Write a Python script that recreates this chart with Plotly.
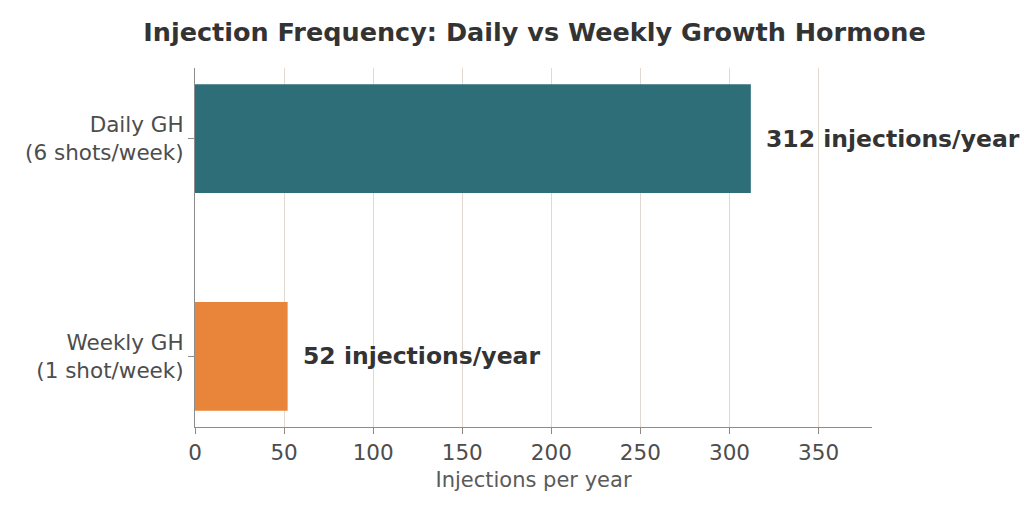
import plotly.graph_objects as go

categories = ["Weekly GH<br>(1 shot/week)", "Daily GH<br>(6 shots/week)"]
values = [52, 312]
colors = ["#E8853A", "#2E6E79"]
labels = ["52 injections/year", "312 injections/year"]
x_ticks = [0, 50, 100, 150, 200, 250, 300, 350]

fig = go.Figure()
fig.add_trace(go.Bar(
    y=[0, 1], x=values, orientation="h", width=0.5,
    marker=dict(color=colors, line=dict(width=0)),
    showlegend=False, hoverinfo="skip",
))
for i, (v, t) in enumerate(zip(values, labels)):
    fig.add_annotation(x=v, y=i, text=f"<b>{t}</b>", xanchor="left", xshift=13,
                       showarrow=False, yanchor="middle",
                       font=dict(family="DejaVu Sans", size=23.5, color="#333333"))

fig.update_layout(
    width=1024, height=512,
    margin=dict(l=195, r=152, t=68, b=85),
    paper_bgcolor="white", plot_bgcolor="white",
    title=dict(text="<b>Injection Frequency: Daily vs Weekly Growth Hormone</b>",
               x=0.522, xanchor="center", y=0.938, yanchor="middle",
               font=dict(family="DejaVu Sans", size=25.5, color="#333333")),
    font=dict(family="DejaVu Sans", color="#4d4d4d"),
)
fig.update_xaxes(
    range=[0, 380], tickvals=x_ticks, showgrid=True, gridcolor="#e3d8cf", gridwidth=1,
    showline=True, linecolor="#8c8c8c", linewidth=1, ticks="outside", ticklen=6,
    tickcolor="#8c8c8c", tickfont=dict(size=21.5, color="#4d4d4d"), zeroline=False,
    title=dict(text="Injections per year", font=dict(size=21, color="#5a5a5a"), standoff=8),
)
fig.update_yaxes(
    range=[-0.325, 1.325], tickvals=[0, 1], ticktext=categories, showgrid=False,
    showline=True, linecolor="#8c8c8c", linewidth=1, ticks="outside", ticklen=6,
    tickcolor="#8c8c8c", tickfont=dict(size=21.5, color="#4d4d4d"), zeroline=False,
)
fig.write_html("out.html")
